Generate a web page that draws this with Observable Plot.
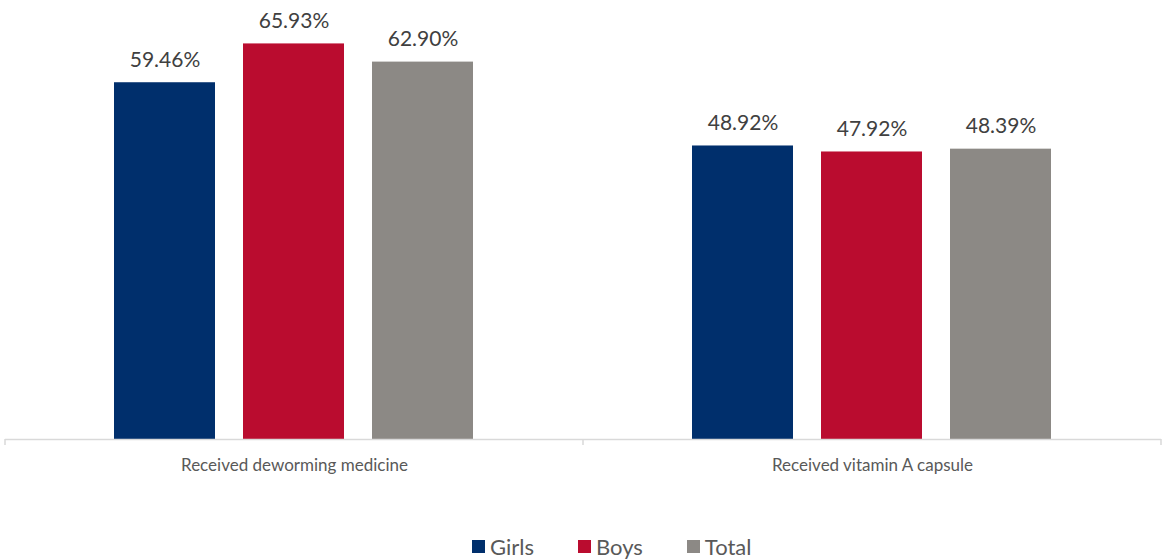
<!DOCTYPE html>
<html>
<head>
<meta charset="utf-8">
<script src="https://cdn.jsdelivr.net/npm/d3@7"></script>
<script src="https://cdn.jsdelivr.net/npm/@observablehq/plot@0.6"></script>
<style>
  html, body { margin: 0; padding: 0; background: #fff; }
  body { width: 1163px; height: 559px; overflow: hidden; font-family: Lato, "Open Sans", sans-serif; }
  #legend { display: flex; align-items: center; margin-top: 34px; margin-left: 472px; height: 24px; font-size: 22px; color: #595959; }
  #legend .item { display: flex; align-items: center; margin-right: 44px; }
  #legend .sw { width: 13px; height: 13px; margin-right: 5px; }
</style>
</head>
<body>
<div id="chart"></div>
<div id="legend"></div>
<script>
const categories = ["Received deworming medicine", "Received vitamin A capsule"];
const series = ["Girls", "Boys", "Total"];
const girls = [59.46, 48.92];
const boys = [65.93, 47.92];
const total = [62.90, 48.39];
const colors = ["#002F6C", "#BA0C2F", "#8C8985"];

const values = [girls, boys, total];
const data = categories.flatMap((c, i) => series.map((s, j) => ({category: c, group: s, value: values[j][i]})));

const plot = Plot.plot({
  width: 1163,
  height: 500,
  marginLeft: 4,
  marginRight: 2,
  marginTop: 19,
  marginBottom: 61,
  style: {fontFamily: "Lato, 'Open Sans', sans-serif", background: "#fff"},
  fx: {domain: categories, padding: 0, axis: null},
  x: {domain: series, paddingInner: 0.217, paddingOuter: 0.84, axis: null},
  y: {domain: [0, 70], axis: null},
  color: {domain: series, range: colors},
  marks: [
    Plot.barY(data, {fx: "category", x: "group", y: "value", fill: "group"}),
    Plot.ruleY([0], {stroke: "#d9d9d9", strokeWidth: 1.5}),
    Plot.text(data, {fx: "category", x: "group", y: "value", text: d => d.value.toFixed(2) + "%", dy: -16, lineAnchor: "bottom", fontSize: 21, fill: "#404040"}),
    Plot.text(categories, {fx: d => d, text: d => d, frameAnchor: "bottom", dy: 26, lineAnchor: "middle", fontSize: 17, fill: "#595959"})
  ]
});
document.getElementById("chart").appendChild(plot);

// tick marks at category boundaries, from the fx and y scales
const fx = plot.scale("fx");
const y0 = plot.scale("y").apply(0);
const svg = d3.select(plot);
const edges = [];
categories.forEach((c, i) => { const s = fx.apply(c); edges.push(s); if (i === categories.length - 1) edges.push(s + fx.bandwidth); });
svg.append("g").selectAll("line").data(edges).join("line")
  .attr("x1", d => d).attr("x2", d => d)
  .attr("y1", y0).attr("y2", y0 + 6)
  .attr("stroke", "#d9d9d9").attr("stroke-width", 1.5);

const legend = d3.select("#legend");
series.forEach((s, i) => {
  const it = legend.append("div").attr("class", "item");
  it.append("div").attr("class", "sw").style("background", colors[i]);
  it.append("span").text(s);
});
</script>
</body>
</html>
